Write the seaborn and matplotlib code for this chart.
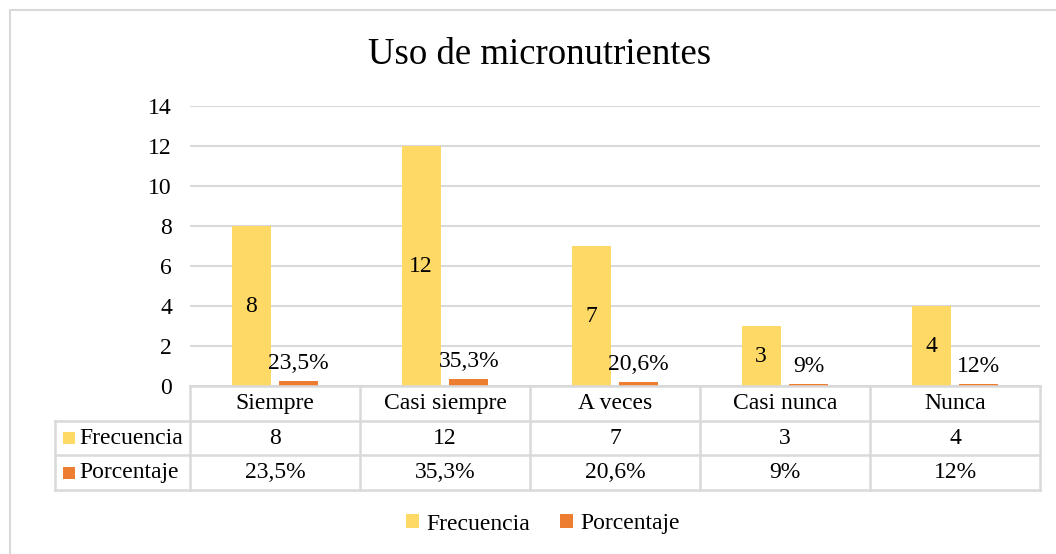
import matplotlib
matplotlib.use("Agg")
import matplotlib.pyplot as plt
import seaborn as sns
import pandas as pd
from matplotlib.patches import Rectangle

categories = ["Siempre", "Casi siempre", "A veces", "Casi nunca", "Nunca"]
frecuencia = [8, 12, 7, 3, 4]
porcentaje = [0.235, 0.353, 0.206, 0.09, 0.12]
porcentaje_labels = ["23,5%", "35,3%", "20,6%", "9%", "12%"]
frecuencia_labels = ["8", "12", "7", "3", "4"]
series = ["Frecuencia", "Porcentaje"]
colors = ["#FFD966", "#ED7D31"]
yticks = [0, 2, 4, 6, 8, 10, 12, 14]
title = "Uso de micronutrientes"

sns.set_theme(style="white")
plt.rcParams["font.family"] = ["Liberation Serif", "DejaVu Serif"]
plt.rcParams["text.color"] = "black"
plt.rcParams["ytick.color"] = "black"
plt.rcParams["xtick.color"] = "black"

df = pd.DataFrame({
    "Categoria": categories * 2,
    "Serie": [series[0]] * len(categories) + [series[1]] * len(categories),
    "Valor": frecuencia + porcentaje,
})

W, H = 1056, 554
FS = 17
GRID = "#D9D9D9"
fig = plt.figure(figsize=(W / 100, H / 100), dpi=100)
fig.patch.set_facecolor("white")

# outer chart border (Excel chart area)
fig.add_artist(Rectangle((10 / W, -0.1), 1.2, 1 - 10 / H + 0.1, transform=fig.transFigure,
                         fill=False, ec=GRID, lw=1.5))

ax = fig.add_axes([190 / W, 1 - 386 / H, 850 / W, 280 / H])
sns.barplot(data=df, x="Categoria", y="Valor", hue="Serie", order=categories,
            hue_order=series, palette=colors, width=0.56, gap=0.18, saturation=1,
            errorbar=None, legend=False, linewidth=0, ax=ax)

ax.bar_label(ax.containers[0], labels=frecuencia_labels, label_type="center",
             fontsize=FS, color="black")
ax.bar_label(ax.containers[1], labels=porcentaje_labels, padding=5, fontsize=FS,
             color="black")

ax.set_ylim(0, 14)
ax.set_xlim(-0.5, len(categories) - 0.5)
ax.set_yticks(yticks)
ax.set_yticklabels([str(t) for t in yticks])
ax.yaxis.grid(True, color=GRID, lw=1.5)
ax.set_axisbelow(True)
ax.set_xticks([])
ax.set_xlabel("")
ax.set_ylabel("")
ax.tick_params(axis="y", length=0, pad=13, labelsize=FS, labelcolor="black")
for s in ax.spines.values():
    s.set_visible(False)
ax.set_facecolor("none")

fig.text(540 / W, 1 - 55 / H, title, ha="center", va="center", fontsize=26.5, color="black")

# data table below the plot
n = len(categories)
x0 = -0.5 - (190 - 55) / 170
tax = fig.add_axes([55 / W, 1 - 490 / H, 985 / W, 104 / H])
tax.set_xlim(x0, n - 0.5)
tax.set_ylim(3, 0)
tax.axis("off")
kw = dict(color=GRID, lw=1.8, clip_on=False, solid_capstyle="projecting")
tax.plot([-0.5, n - 0.5], [0, 0], **kw)
for r in (1, 2, 3):
    tax.plot([x0, n - 0.5], [r, r], **kw)
for k in range(n + 1):
    tax.plot([-0.5 + k, -0.5 + k], [0, 3], **kw)
tax.plot([x0, x0], [1, 3], **kw)

for i, c in enumerate(categories):
    tax.text(i, 0.5, c, ha="center", va="center", fontsize=FS, color="black")
    tax.text(i, 1.5, frecuencia_labels[i], ha="center", va="center", fontsize=FS, color="black")
    tax.text(i, 2.5, porcentaje_labels[i], ha="center", va="center", fontsize=FS, color="black")

xm = -0.5 - (190 - 69) / 170
xt = -0.5 - (190 - 79) / 170
for r, (name, col) in enumerate(zip(series, colors)):
    tax.plot([xm], [1.5 + r], marker="s", ms=9, color=col, mew=0, ls="none", clip_on=False)
    tax.text(xt, 1.5 + r, name, ha="left", va="center", fontsize=FS, color="black")

handles = [Rectangle((0, 0), 1, 1, color=c, lw=0) for c in colors]
leg = fig.legend(handles=handles, labels=series, loc="center",
                 bbox_to_anchor=(543 / W, 1 - 524 / H), ncol=2, frameon=False,
                 fontsize=FS, handlelength=0.55, handleheight=0.55,
                 handletextpad=0.3, columnspacing=1.3)
for t in leg.get_texts():
    t.set_color("black")

fig.savefig("out.png", dpi=100)
